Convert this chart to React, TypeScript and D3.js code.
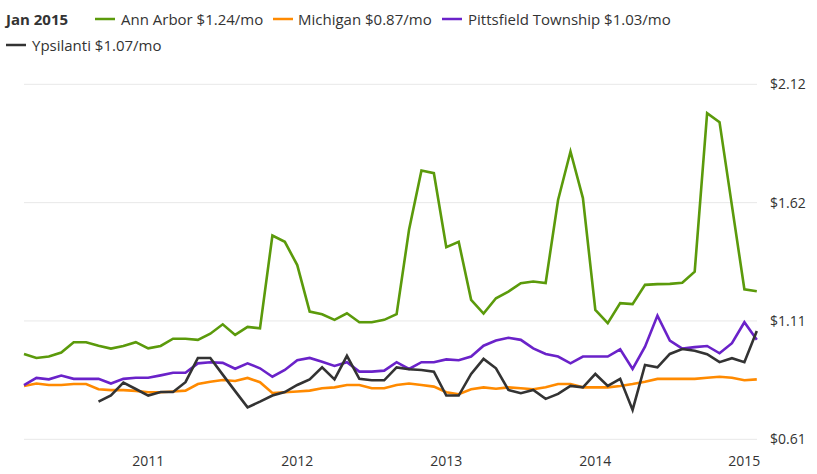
import React from "react";
import * as d3 from "d3";

// Months: Feb 2010 .. Jan 2015 (60 points)
const annArbor: (number | null)[] = [
  0.973, 0.956, 0.962, 0.979, 1.023, 1.023, 1.008, 0.996, 1.007, 1.023,
  0.997, 1.007, 1.038, 1.038, 1.033, 1.059, 1.099, 1.054, 1.088, 1.082,
  1.477, 1.45, 1.351, 1.153, 1.142, 1.118, 1.146, 1.108, 1.108, 1.118,
  1.142, 1.501, 1.753, 1.742, 1.427, 1.45, 1.203, 1.145, 1.21, 1.238,
  1.274, 1.281, 1.275, 1.628, 1.834, 1.636, 1.16, 1.104, 1.189, 1.185,
  1.267, 1.27, 1.271, 1.276, 1.323, 1.997, 1.959, 1.603, 1.248, 1.24,
];
const michigan: (number | null)[] = [
  0.837, 0.847, 0.841, 0.841, 0.845, 0.845, 0.823, 0.819, 0.819, 0.816,
  0.81, 0.81, 0.813, 0.817, 0.845, 0.855, 0.862, 0.858, 0.871, 0.853,
  0.807, 0.81, 0.813, 0.817, 0.827, 0.831, 0.841, 0.841, 0.827, 0.827,
  0.841, 0.847, 0.841, 0.834, 0.81, 0.802, 0.823, 0.831, 0.825, 0.831,
  0.827, 0.823, 0.831, 0.845, 0.845, 0.831, 0.831, 0.831, 0.837, 0.845,
  0.855, 0.867, 0.867, 0.867, 0.867, 0.872, 0.876, 0.872, 0.861, 0.865,
];
const pittsfield: (number | null)[] = [
  0.84, 0.871, 0.865, 0.881, 0.867, 0.867, 0.867, 0.847, 0.867, 0.872,
  0.872, 0.882, 0.893, 0.893, 0.933, 0.938, 0.935, 0.91, 0.933, 0.912,
  0.876, 0.905, 0.946, 0.956, 0.94, 0.922, 0.938, 0.898, 0.898, 0.902,
  0.938, 0.909, 0.938, 0.938, 0.95, 0.946, 0.962, 1.008, 1.03, 1.042,
  1.033, 0.997, 0.973, 0.962, 0.933, 0.962, 0.962, 0.962, 0.993, 0.909,
  1.004, 1.136, 1.03, 0.996, 1.002, 1.007, 0.976, 1.019, 1.108, 1.033,
];
const ypsilanti: (number | null)[] = [
  null, null, null, null, null, null, 0.77, 0.797, 0.851, 0.824,
  0.796, 0.811, 0.811, 0.853, 0.956, 0.956, 0.885, 0.815, 0.746, 0.77,
  0.796, 0.811, 0.841, 0.865, 0.916, 0.865, 0.965, 0.867, 0.861, 0.861,
  0.916, 0.908, 0.905, 0.898, 0.796, 0.796, 0.888, 0.952, 0.912, 0.82,
  0.806, 0.82, 0.782, 0.803, 0.837, 0.831, 0.888, 0.837, 0.867, 0.735,
  0.926, 0.916, 0.973, 0.994, 0.987, 0.972, 0.938, 0.955, 0.938, 1.071,
];

const seriesNames = ["Ann Arbor", "Michigan", "Pittsfield Township", "Ypsilanti"];
const seriesColors = ["#5b9a0b", "#ff8a00", "#6a22c9", "#333333"];
const seriesData = [annArbor, michigan, pittsfield, ypsilanti];
const legendValues = ["$1.24/mo", "$0.87/mo", "$1.03/mo", "$1.07/mo"];
const legendTitle = "Jan 2015";

const xTickIndex = [10, 22, 34, 46, 58];
const xTickLabels = ["2011", "2012", "2013", "2014", "2015"];
const yMin = 0.61;
const yMax = 2.12;

const W = 817;
const H = 474;
const font = "'Open Sans', sans-serif";

export default function App() {
  const x = d3.scaleLinear().domain([0, 59]).range([24, 756.8]);
  const y = d3.scaleLinear().domain([yMin, yMax]).range([439.3, 84.3]);
  const yTicks = [0, 1, 2, 3].map((i) => yMin + (i * (yMax - yMin)) / 3);

  const line = d3
    .line<number | null>()
    .defined((d) => d != null)
    .x((_, i) => x(i))
    .y((d) => y(d as number));

  const legendPos = [
    { sx: 95, tx: 121, y: 19 },
    { sx: 273, tx: 298, y: 19 },
    { sx: 442, tx: 468, y: 19 },
    { sx: 6, tx: 32, y: 45 },
  ];

  return (
    <svg
      width={W}
      height={H}
      style={{ position: "absolute", left: 0, top: 0, background: "#fff" }}
      fontFamily={font}
    >
      {yTicks.map((t, i) => (
        <g key={i}>
          <line x1={24} x2={757} y1={y(t)} y2={y(t)} stroke="#e8e8e8" strokeWidth={1} />
          <text x={770} y={y(t) + 5} fontSize={14} fill="#333">
            {"$" + t.toFixed(2)}
          </text>
        </g>
      ))}
      {xTickIndex.map((t, i) => (
        <text key={i} x={x(t)} y={466} fontSize={14} fill="#333" textAnchor="middle">
          {xTickLabels[i]}
        </text>
      ))}
      {seriesData.map((s, i) => (
        <path
          key={i}
          d={line(s) || ""}
          fill="none"
          stroke={seriesColors[i]}
          strokeWidth={2.6}
          strokeLinejoin="miter"
        />
      ))}
      <text x={6} y={24.5} fontSize={15} fontWeight="bold" fill="#333">
        {legendTitle}
      </text>
      {seriesNames.map((n, i) => (
        <g key={i}>
          <line
            x1={legendPos[i].sx}
            x2={legendPos[i].sx + 20}
            y1={legendPos[i].y}
            y2={legendPos[i].y}
            stroke={seriesColors[i]}
            strokeWidth={2.5}
          />
          <text x={legendPos[i].tx} y={legendPos[i].y + 5.5} fontSize={15} fill="#333">
            {n + " " + legendValues[i]}
          </text>
        </g>
      ))}
    </svg>
  );
}
